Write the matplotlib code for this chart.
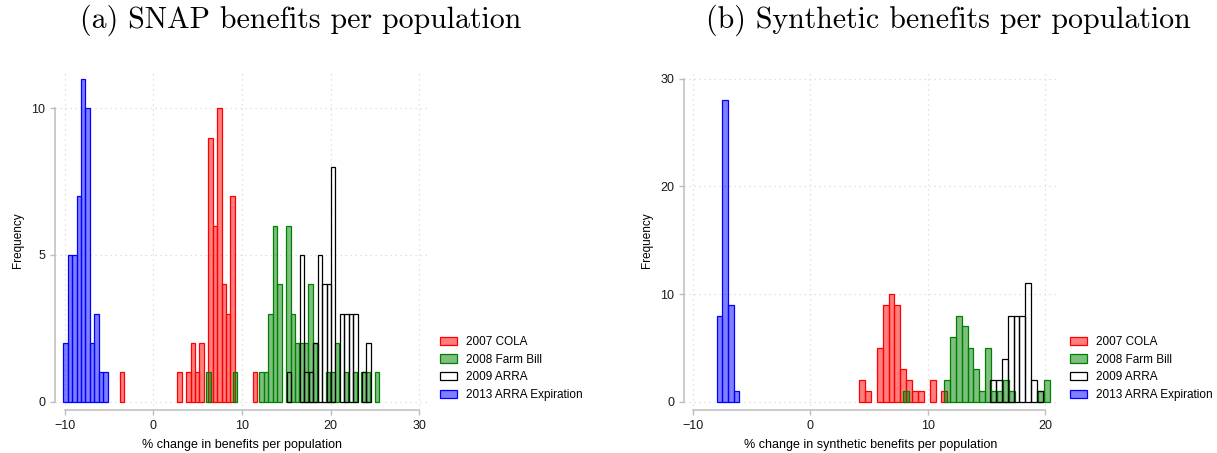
import matplotlib
matplotlib.use("Agg")
import matplotlib.pyplot as plt
from matplotlib.patches import Patch

plt.rcParams["font.family"] = ["Liberation Sans", "DejaVu Sans"]

# histogram bins: left edge of each non-empty bin and its count
# (a) SNAP benefits per population
cola_a_edges = [-3.8, 2.7, 3.7, 4.2, 4.7, 5.2, 6.2, 6.7, 7.2, 7.7, 8.2, 8.7, 11.2]
cola_a_counts = [1, 1, 1, 2, 1, 2, 9, 6, 10, 4, 3, 7, 1]
farm_a_edges = [5.98, 8.98, 11.98, 12.48, 12.98, 13.48, 13.98, 14.98, 15.48, 15.98, 16.48,
                16.98, 17.48, 17.98, 19.48, 19.98, 20.48, 21.48, 22.48, 23.48, 23.98, 24.98]
farm_a_counts = [1, 1, 1, 1, 3, 6, 4, 6, 3, 2, 2, 2, 4, 2, 1, 1, 2, 1, 1, 1, 1, 1]
arra_a_edges = [15.05, 16.55, 17.05, 17.55, 18.05, 18.55, 19.05, 19.55, 20.05, 21.05,
                21.55, 22.05, 22.55, 23.55, 24.05]
arra_a_counts = [1, 5, 1, 1, 2, 5, 4, 4, 8, 3, 3, 3, 3, 1, 2]
expire_a_edges = [-10.17, -9.66, -9.16, -8.66, -8.16, -7.66, -7.16, -6.66, -6.16, -5.66]
expire_a_counts = [2, 5, 5, 7, 11, 10, 2, 3, 1, 1]

# (b) synthetic benefits per population
cola_b_edges = [4.15, 4.65, 5.65, 6.15, 6.65, 7.15, 7.65, 8.15, 8.65, 9.15, 10.15, 11.15]
cola_b_counts = [2, 1, 5, 9, 10, 9, 3, 2, 1, 1, 2, 1]
farm_b_edges = [7.88, 11.38, 11.88, 12.38, 12.88, 13.38, 13.88, 14.38, 14.88, 15.38,
                15.88, 16.38, 16.88, 19.38, 19.88]
farm_b_counts = [1, 2, 6, 8, 7, 5, 3, 1, 5, 1, 1, 2, 1, 1, 2]
arra_b_edges = [15.3, 15.8, 16.3, 16.8, 17.3, 17.8, 18.3, 18.8, 19.3]
arra_b_counts = [2, 2, 4, 8, 8, 8, 11, 2, 1]
expire_b_edges = [-7.98, -7.5, -7.02, -6.54]
expire_b_counts = [8, 28, 9, 1]

bin_width = 0.5
expire_b_width = 0.48

labels = ["2007 COLA", "2008 Farm Bill", "2009 ARRA", "2013 ARRA Expiration"]
faces = [(1, 0, 0, 0.5), (0, 0.5, 0, 0.5), "none", (0, 0, 1, 0.5)]
edges = ["red", "green", "black", "blue"]

grid_col = "#d9d9d9"
axis_col = "#bdbdbd"


def panel(ax, series, xticks, yticks, xlim, ylim, xlabel):
    for (e, c, w), fc, ec in zip(series, faces, edges):
        ax.bar(e, c, width=w, align="edge", facecolor=fc, edgecolor=ec,
               linewidth=0.9, zorder=3)
    ax.set_xlim(*xlim)
    ax.set_ylim(*ylim)
    ax.set_xticks(xticks)
    ax.set_yticks(yticks)
    ax.grid(True, color=grid_col, linestyle=(0, (1, 3)), linewidth=0.9, zorder=0)
    for s in ["top", "right"]:
        ax.spines[s].set_visible(False)
    ax.spines["left"].set_bounds(yticks[0], yticks[-1])
    ax.spines["bottom"].set_bounds(xticks[0], xticks[-1])
    for s in ["left", "bottom"]:
        ax.spines[s].set_color(axis_col)
        ax.spines[s].set_linewidth(1.1)
    ax.tick_params(colors=axis_col, labelcolor="#1a1a1a", labelsize=9,
                   length=3.5, width=1.0)
    ax.set_xlabel(xlabel, fontsize=9, labelpad=5)
    ax.set_ylabel("Frequency", fontsize=8.5, labelpad=5)
    handles = [Patch(facecolor=fc, edgecolor=ec, linewidth=0.9) for fc, ec in zip(faces, edges)]
    ax.legend(handles, labels, loc="lower left", bbox_to_anchor=(1.02, 0.013),
              frameon=False, fontsize=8.5, handlelength=1.45, handleheight=0.72,
              handletextpad=0.75, labelspacing=0.47, borderaxespad=0)


fig = plt.figure(figsize=(12.17, 4.53), dpi=100)
ax1 = fig.add_axes([0.0452, 0.0949, 0.3065, 0.7506])
ax2 = fig.add_axes([0.5620, 0.0949, 0.3073, 0.7506])

panel(ax1,
      [(cola_a_edges, cola_a_counts, bin_width), (farm_a_edges, farm_a_counts, bin_width),
       (arra_a_edges, arra_a_counts, bin_width), (expire_a_edges, expire_a_counts, bin_width)],
      [-10, 0, 10, 20, 30], [0, 5, 10], (-11.1, 31.0), (-0.28, 11.3),
      "% change in benefits per population")
panel(ax2,
      [(cola_b_edges, cola_b_counts, bin_width), (farm_b_edges, farm_b_counts, bin_width),
       (arra_b_edges, arra_b_counts, bin_width), (expire_b_edges, expire_b_counts, expire_b_width)],
      [-10, 0, 10, 20], [0, 10, 20, 30], (-10.78, 21.08), (-0.77, 30.8),
      "% change in synthetic benefits per population")

fig.text(301 / 1217, 1 - 20 / 453, "(a) SNAP benefits per population",
         fontfamily="cmr10", fontsize=21.5, ha="center", va="center")
fig.text(948 / 1217, 1 - 20 / 453, "(b) Synthetic benefits per population",
         fontfamily="cmr10", fontsize=21.5, ha="center", va="center")

fig.savefig("out.png", dpi=100)
